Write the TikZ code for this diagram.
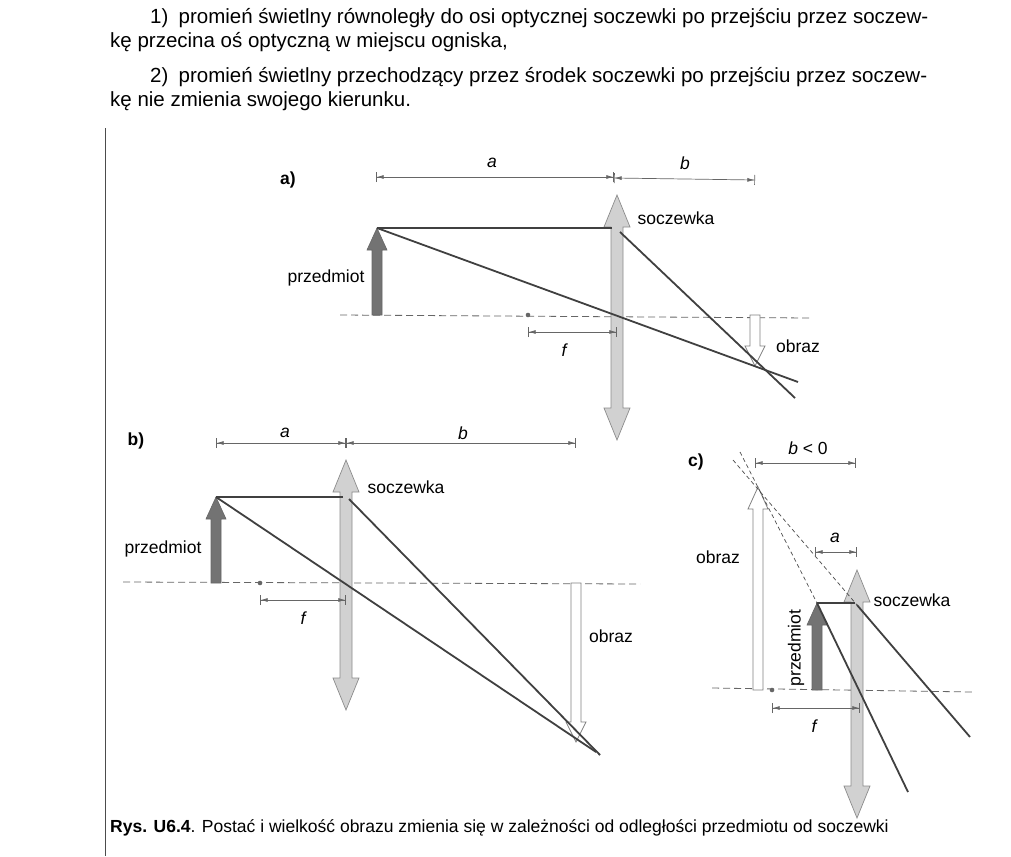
\documentclass[tikz,border=0pt]{standalone}
\usepackage{fontspec}
\setmainfont{Liberation Sans}
\usetikzlibrary{arrows.meta}
\newcommand{\lensshape}[3]{% x, ytop, ybot
 \filldraw[fill=black!18,draw=black!45,line width=0.7pt] (#1-6,#2+32)--(#1-13,#2+32)--(#1,#2)--(#1+13,#2+32)--(#1+6,#2+32)--(#1+6,#3-32)--(#1+13,#3-32)--(#1,#3)--(#1-13,#3-32)--(#1-6,#3-32)--cycle;}
\newcommand{\uparr}[4]{% x, ybase, ytip, style
 \filldraw[#4] (#1-5,#2)--(#1-5,#3+22)--(#1-10,#3+22)--(#1,#3)--(#1+10,#3+22)--(#1+5,#3+22)--(#1+5,#2)--cycle;}
\newcommand{\dnarr}[4]{%
 \filldraw[#4] (#1-5,#2)--(#1-5,#3-20)--(#1-10,#3-20)--(#1,#3)--(#1+10,#3-20)--(#1+5,#3-20)--(#1+5,#2)--cycle;}
\tikzset{
 obj/.style={fill=black!55,draw=black!60,line width=0.6pt},
 img/.style={fill=white,draw=black!50,line width=0.8pt},
 ray/.style={draw=black!75,line width=1.8pt},
 axis/.style={draw=black!60,dashed,dash pattern=on 7pt off 4pt,line width=0.8pt},
 dim/.style={draw=black!60,line width=0.7pt,{Bar[width=10pt]Latex[length=7pt,width=4pt]}-{Latex[length=7pt,width=4pt]Bar[width=10pt]}},
 lbl/.style={font=\fontsize{17.5}{20}\selectfont,inner sep=1pt},
 itl/.style={font=\itshape\fontsize{17.5}{20}\selectfont,inner sep=1pt},
 tx/.style={font=\fontsize{20.5}{23}\selectfont,anchor=west,inner sep=0pt},
}
\begin{document}
\begin{tikzpicture}[x=1pt,y=-1pt]
\useasboundingbox (0,0) rectangle (1011,856);
\fill[white] (0,0) rectangle (1011,856);
% text
\node[tx] (t1) at (150,18) {1)\enspace promień świetlny równoległy do osi optycznej soczewki po przejściu przez soczew-};
\node[tx] (t2) at (110,42) {kę przecina oś optyczną w miejscu ogniska,};
\node[tx] (t3) at (150,77) {2)\enspace promień świetlny przechodzący przez środek soczewki po przejściu przez soczew-};
\node[tx] (t4) at (110,101) {kę nie zmienia swojego kierunku.};
\draw[black!70,line width=1pt] (105,128)--(105,856);
\node[tx,font=\fontsize{17.5}{20}\selectfont] (cap) at (110,828) {\textbf{Rys. U6.4}. Postać i wielkość obrazu zmienia się w zależności od odległości przedmiotu od soczewki};
% ---------- a)
\node[lbl,font=\bfseries\fontsize{17.5}{20}\selectfont] (la) at (288,180) {a)};
\draw[axis] (340,315)--(810,318);
\lensshape{617}{195}{440}
\uparr{377}{315}{228}{obj}
\dnarr{755}{315}{366}{img}
\draw[ray] (377,228)--(612,228);
\draw[ray] (620,232)--(795,398);
\draw[ray] (377,228)--(798,382);
\fill[black!60] (528,315) circle (2.3);
\draw[dim] (528,332)--(617,332);
\node[itl] (fa) at (564,350) {f};
\draw[dim] (376,177)--(614,177);
\draw[dim] (614,178)--(755,180);
\node[itl] (aa) at (492,163) {a};
\node[itl] (ba) at (685,163) {b};
\node[lbl] (sa) at (676,218) {soczewka};
\node[lbl] (oa) at (798,346) {obraz};
\node[lbl] (pa) at (326,278) {przedmiot};
% ---------- b)
\node[lbl,font=\bfseries\fontsize{17.5}{20}\selectfont] (lb) at (136,441) {b)};
\draw[axis] (123,582)--(640,584);
\lensshape{346}{460}{710}
\uparr{216}{583}{497}{obj}
\dnarr{576}{583}{742}{img}
\draw[ray] (216,497)--(343,497);
\draw[ray] (349,499)--(600,755);
\draw[ray] (216,497)--(596,752);
\fill[black!60] (260,583) circle (2.3);
\draw[dim] (260,600)--(346,600);
\node[itl] (fb) at (303,618) {f};
\draw[dim] (216,443)--(346,443);
\draw[dim] (346,443)--(576,443);
\node[itl] (ab) at (285,433) {a};
\node[itl] (bb) at (463,433) {b};
\node[lbl] (sb) at (406,487) {soczewka};
\node[lbl] (ob) at (611,636) {obraz};
\node[lbl] (pb) at (163,549) {przedmiot};
% ---------- c)
\node[lbl,font=\bfseries\fontsize{17.5}{20}\selectfont] (lc) at (696,462) {c)};
\draw[axis] (712,688)--(972,692);
\uparr{758}{690}{487}{img}
\lensshape{857}{570}{818}
\uparr{817}{690}{603}{obj}
\draw[ray] (817,603)--(855,603);
\draw[ray] (857,605)--(970,737);
\draw[ray] (817,603)--(908,792);
\draw[black!70,dashed,dash pattern=on 4pt off 3pt,line width=0.7pt] (733,460)--(857,605);
\draw[black!70,dashed,dash pattern=on 4pt off 3pt,line width=0.7pt] (740,452)--(817,603);
\fill[black!60] (772,690) circle (2.3);
\draw[dim] (772,708)--(860,708);
\node[itl] (fc) at (814,726) {f};
\draw[dim] (755,463)--(856,463);
\node[lbl] (bc) at (808,448) {\textit{b} < 0};
\draw[dim] (815,552)--(857,552);
\node[itl] (ac) at (835,538) {a};
\node[lbl] (oc) at (718,557) {obraz};
\node[lbl,rotate=90] (pc) at (796,648) {przedmiot};
\node[lbl] (sc) at (912,600) {soczewka};
\end{tikzpicture}
\end{document}
